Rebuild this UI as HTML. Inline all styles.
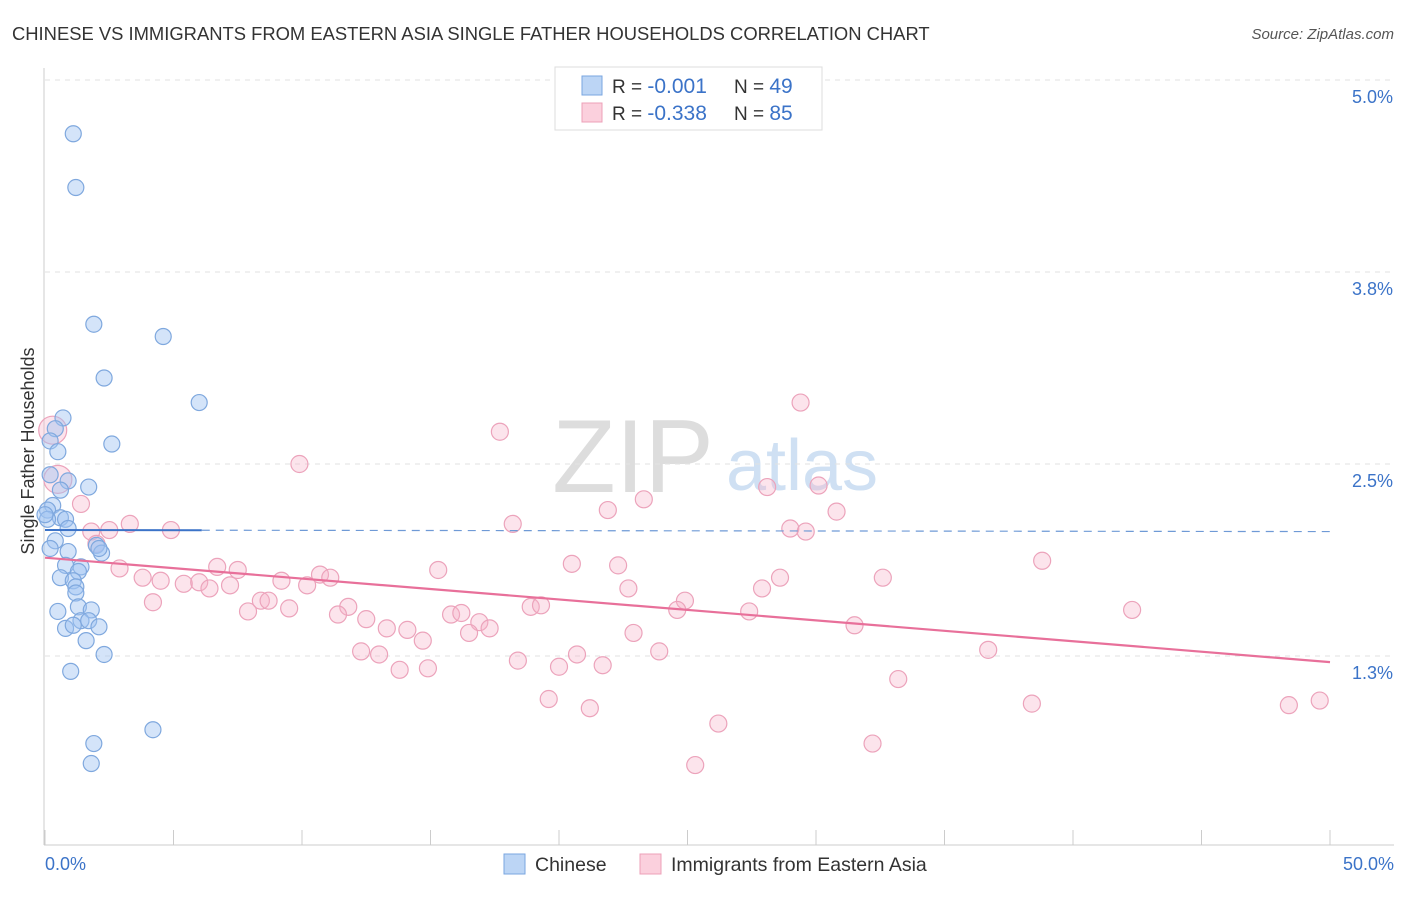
<!DOCTYPE html>
<html><head><meta charset="utf-8"><style>
body{margin:0;background:#fff;font-family:"Liberation Sans",sans-serif;}
svg text{font-family:"Liberation Sans",sans-serif;}
</style></head><body>
<svg id="chart" width="1406" height="892" xmlns="http://www.w3.org/2000/svg">
<text x="12" y="40" font-size="18.4" fill="#333">CHINESE VS IMMIGRANTS FROM EASTERN ASIA SINGLE FATHER HOUSEHOLDS CORRELATION CHART</text>
<text x="1394" y="39" font-size="15" fill="#555" font-style="italic" text-anchor="end">Source: ZipAtlas.com</text>
<text x="40" y="457" font-size="18" fill="#333" transform="rotate(-90 34 457)" text-anchor="middle">Single Father Households</text>
<g><text x="633" y="492" font-size="104" fill="#ddd" font-family="Liberation Serif" text-anchor="middle">ZIP</text><text x="802" y="490" font-size="72" fill="#cfe0f3" text-anchor="middle">atlas</text></g>
<g id="grid"></g><g id="axes"></g><g id="marks"></g>
<g>
<rect x="555" y="67" width="267" height="63" fill="#fff" stroke="#ddd"/>
<rect x="582" y="76" width="20" height="19" fill="#bcd5f5" stroke="#7aa6e0"/>
<rect x="582" y="103" width="20" height="19" fill="#fbd0dd" stroke="#eda0b8"/>
<text x="612" y="93" font-size="19" fill="#333">R = <tspan fill="#3b73c8" font-size="21">-0.001</tspan></text>
<text x="734" y="93" font-size="19" fill="#333">N = <tspan fill="#3b73c8" font-size="21">49</tspan></text>
<text x="612" y="120" font-size="19" fill="#333">R = <tspan fill="#3b73c8" font-size="21">-0.338</tspan></text>
<text x="734" y="120" font-size="19" fill="#333">N = <tspan fill="#3b73c8" font-size="21">85</tspan></text>
</g>
<g>
<rect x="504" y="854" width="21" height="20" fill="#bcd5f5" stroke="#7aa6e0"/>
<text x="535" y="871" font-size="19.5" fill="#333">Chinese</text>
<rect x="640" y="854" width="21" height="20" fill="#fbd0dd" stroke="#eda0b8"/>
<text x="671" y="871" font-size="19.5" fill="#333">Immigrants from Eastern Asia</text>
</g>
</svg>
<script>
const yTicks=[5.0,3.75,2.5,1.25];
const yTickLabels=["5.0%","3.8%","2.5%","1.3%"];
const xTickVals=[0,5,10,15,20,25,30,35,40,45,50];
const chineseX=[1.1,1.2,1.9,4.6,2.3,6.0,0.7,0.4,0.2,2.6,0.5,1.7,0.9,0.6,0.3,0.1,0.6,0.8,0.9,2.0,0.4,2.2,0.9,1.4,0.8,1.3,0.6,1.1,1.2,1.2,1.3,0.5,1.8,1.4,1.7,0.8,1.1,2.1,1.6,2.3,1.0,4.2,1.9,1.8,0.1,0.2,0.0,0.2,2.1];
const chineseY=[4.65,4.3,3.41,3.33,3.06,2.9,2.8,2.73,2.65,2.63,2.58,2.35,2.39,2.33,2.23,2.2,2.15,2.14,2.08,1.97,2.0,1.92,1.93,1.83,1.84,1.8,1.76,1.74,1.7,1.66,1.57,1.54,1.55,1.48,1.48,1.43,1.45,1.44,1.35,1.26,1.15,0.77,0.68,0.55,2.14,1.95,2.17,2.43,1.95];
const immX=[29.4,17.7,9.9,0.3,0.5,1.4,23.3,21.9,28.1,30.1,30.8,18.2,29.0,29.6,3.3,4.9,2.5,1.8,2.0,20.5,22.3,15.3,38.8,2.9,6.7,7.5,10.7,3.8,4.5,5.4,11.1,9.2,6.0,7.2,10.2,6.4,28.6,32.6,22.7,27.9,4.2,8.4,8.7,9.5,11.8,11.4,12.5,15.8,16.2,18.9,19.3,24.9,24.6,27.4,42.3,16.9,17.3,13.3,14.1,14.7,16.5,22.9,31.5,12.3,13.0,20.7,23.9,36.7,18.4,20.0,21.7,13.8,14.9,33.2,19.6,21.2,26.2,38.4,48.4,49.6,32.2,25.3,7.9];
const immY=[2.9,2.71,2.5,2.72,2.4,2.24,2.27,2.2,2.35,2.36,2.19,2.11,2.08,2.06,2.11,2.07,2.07,2.06,1.98,1.85,1.84,1.81,1.87,1.82,1.83,1.81,1.78,1.76,1.74,1.72,1.76,1.74,1.73,1.71,1.71,1.69,1.76,1.76,1.69,1.69,1.6,1.61,1.61,1.56,1.57,1.52,1.49,1.52,1.53,1.57,1.58,1.61,1.55,1.54,1.55,1.47,1.43,1.43,1.42,1.35,1.4,1.4,1.45,1.28,1.26,1.26,1.28,1.29,1.22,1.18,1.19,1.16,1.17,1.1,0.97,0.91,0.81,0.94,0.93,0.96,0.68,0.54,1.54];
const chineseTrend=[2.07,2.06];
const immTrend=[1.89,1.21];
const NS="http://www.w3.org/2000/svg";
const X=v=>45+v*25.7, Y=v=>80+(5-v)*153.6;
function mk(tag,attrs,parent){const e=document.createElementNS(NS,tag);for(const k in attrs)e.setAttribute(k,attrs[k]);parent.appendChild(e);return e;}
const grid=document.getElementById('grid'),axes=document.getElementById('axes'),marks=document.getElementById('marks');
yTicks.forEach((t,i)=>{
 const l=mk('line',{x1:45,x2:1394,y1:Y(t),y2:Y(t),stroke:'#e2e2e2','stroke-dasharray':'5,5'},grid);
 
 
 const tx=mk('text',{x:1393,y:Y(t)+23,'font-size':18,fill:'#3b73c8','text-anchor':'end'},axes);
 tx.textContent=yTickLabels[i];
 
 
});
const ax=mk('line',{x1:44,x2:1394,y1:845,y2:845,stroke:'#ccc'},axes);


const ay=mk('line',{x1:44,x2:44,y1:68,y2:845,stroke:'#ccc'},axes);


xTickVals.forEach(t=>{
 const l=mk('line',{x1:X(t),x2:X(t),y1:830,y2:845,stroke:'#ccc'},axes);
 
 
});
[[0,"0.0%","start",45],[50,"50.0%","end",1394]].forEach(a=>{
 const t=mk('text',{x:a[3],y:870,'font-size':18,fill:'#3b73c8','text-anchor':a[2]},axes);
 t.textContent=a[1];
 
 
});
immX.forEach((x,i)=>{
 const big=(i===3||i===4);
 const c=mk('circle',{cx:X(x),cy:Y(immY[i]),r:big?14:8.5,fill:'rgba(246,178,200,0.35)',stroke:'#eca3bb','stroke-width':1.2},marks);
 
 
});
chineseX.forEach((x,i)=>{
 const c=mk('circle',{cx:X(x),cy:Y(chineseY[i]),r:8,fill:'rgba(160,196,242,0.45)',stroke:'#7fa8de','stroke-width':1.2},marks);
 
 
});
const t1=mk('line',{x1:X(0),y1:Y(chineseTrend[0]),x2:X(6.1),y2:Y(chineseTrend[0]+(chineseTrend[1]-chineseTrend[0])*6.1/50),stroke:'#3b73c8','stroke-width':2},marks);


const t2=mk('line',{x1:X(6.1),y1:Y(chineseTrend[0]+(chineseTrend[1]-chineseTrend[0])*6.1/50),x2:X(50),y2:Y(chineseTrend[1]),stroke:'#6f9ad6','stroke-width':1.2,'stroke-dasharray':'8,6'},marks);


const t3=mk('line',{x1:X(0),y1:Y(immTrend[0]),x2:X(50),y2:Y(immTrend[1]),stroke:'#e8709a','stroke-width':2.2},marks);


</script>
</body></html>
